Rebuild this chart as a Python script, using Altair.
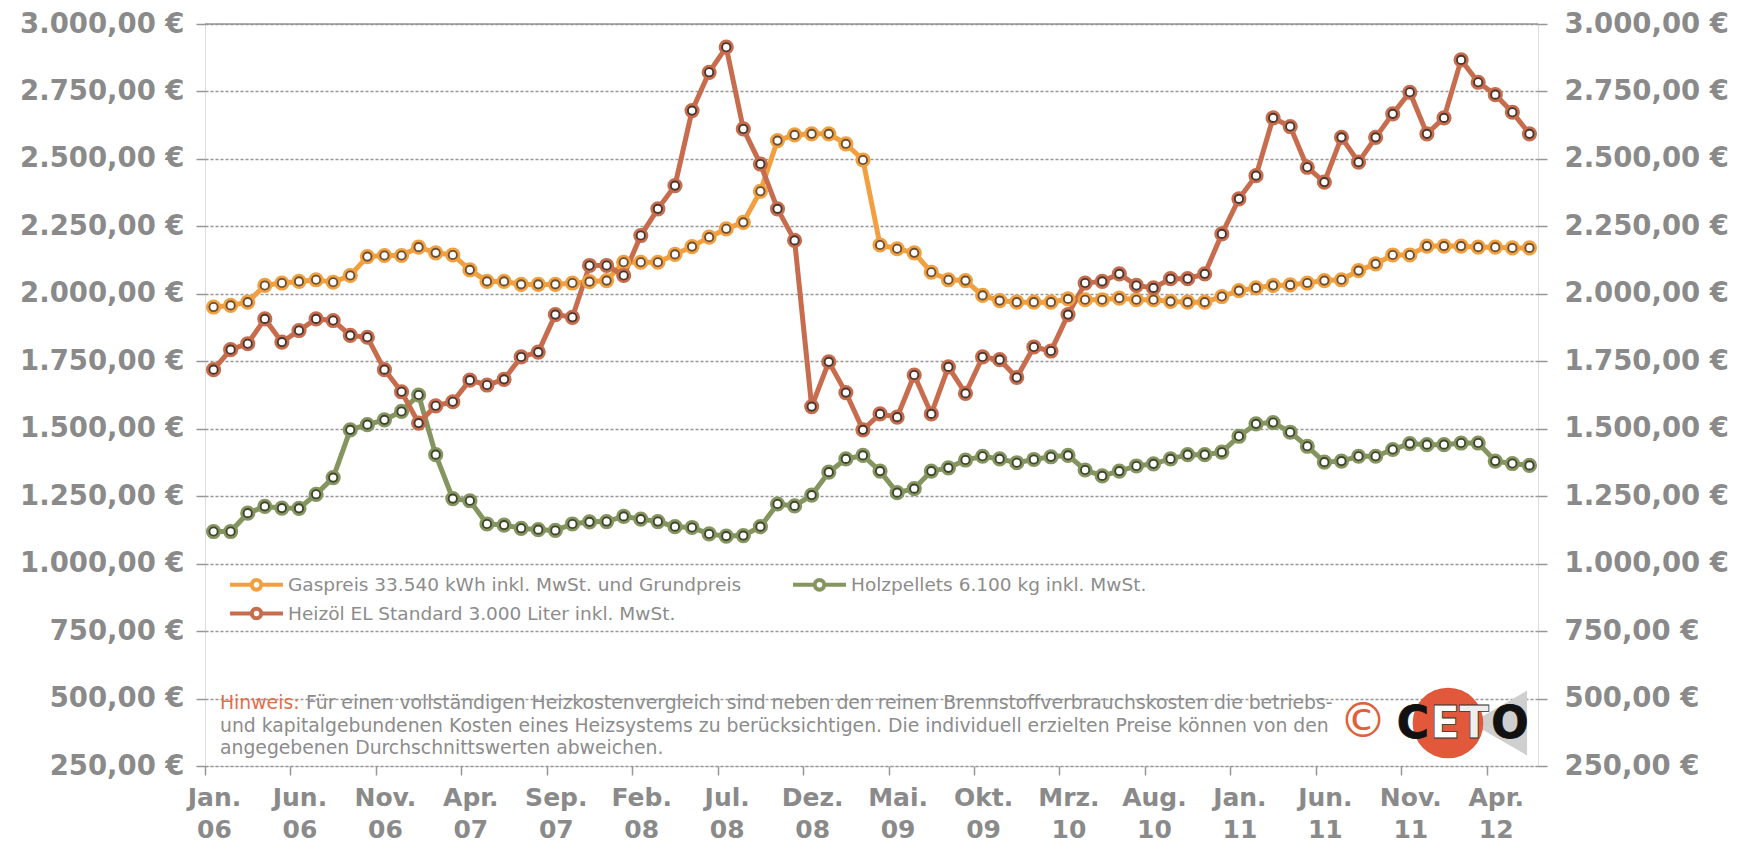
import altair as alt
import pandas as pd

# ---------------- data ----------------
GAS = "Gaspreis 33.540 kWh inkl. MwSt. und Grundpreis"
PEL = "Holzpellets 6.100 kg inkl. MwSt."
OIL = "Heizöl EL Standard 3.000 Liter inkl. MwSt."

# monthly values, Jan 2006 .. Jun 2012 (78 months)
gas = [1951, 1957, 1969, 2031, 2040, 2046, 2052, 2043, 2068, 2138, 2142, 2142, 2173, 2152, 2144, 2089,
       2046, 2046, 2035, 2035, 2035, 2040, 2045, 2049, 2117, 2117, 2117, 2146, 2175, 2210, 2241, 2265,
       2380, 2568, 2589, 2593, 2593, 2556, 2496, 2181, 2167, 2152, 2080, 2052, 2049, 1994, 1975, 1969,
       1969, 1969, 1981, 1978, 1978, 1984, 1978, 1978, 1972, 1969, 1969, 1990, 2012, 2022, 2031, 2033,
       2040, 2049, 2052, 2086, 2111, 2144, 2144, 2177, 2177, 2177, 2173, 2173, 2170, 2170]

oil = [1719, 1793, 1815, 1907, 1821, 1864, 1907, 1901, 1846, 1839, 1719, 1637, 1521, 1585, 1600, 1680,
       1662, 1683, 1766, 1784, 1923, 1913, 2105, 2105, 2068, 2216, 2315, 2401, 2679, 2821, 2914, 2611,
       2481, 2315, 2198, 1582, 1748, 1634, 1496, 1555, 1543, 1699, 1555, 1729, 1631, 1766, 1756, 1690,
       1803, 1788, 1923, 2040, 2046, 2074, 2031, 2022, 2056, 2056, 2074, 2222, 2352, 2438, 2652, 2620,
       2469, 2414, 2580, 2488, 2580, 2667, 2747, 2593, 2652, 2867, 2784, 2738, 2673, 2593]

pellets = [1119, 1119, 1187, 1212, 1206, 1205, 1257, 1319, 1496, 1515, 1533, 1564, 1625, 1404, 1241, 1233,
           1147, 1143, 1131, 1126, 1123, 1147, 1155, 1156, 1175, 1165, 1156, 1137, 1134, 1110, 1102, 1104,
           1137, 1221, 1214, 1254, 1339, 1388, 1401, 1343, 1263, 1278, 1343, 1355, 1384, 1398, 1388, 1374,
           1386, 1396, 1401, 1347, 1325, 1343, 1362, 1370, 1388, 1404, 1404, 1413, 1472, 1518, 1523, 1487,
           1435, 1376, 1380, 1398, 1398, 1423, 1445, 1441, 1441, 1447, 1447, 1380, 1371, 1364]

tick_months = ["Jan.", "Jun.", "Nov.", "Apr.", "Sep.", "Feb.", "Jul.", "Dez.",
               "Mai.", "Okt.", "Mrz.", "Aug.", "Jan.", "Jun.", "Nov.", "Apr."]
tick_years = ["06", "06", "06", "07", "07", "08", "08", "08",
              "09", "09", "10", "10", "11", "11", "11", "12"]
y_ticks = [250, 500, 750, 1000, 1250, 1500, 1750, 2000, 2250, 2500, 2750, 3000]

series_order = [GAS, PEL, OIL]
legend_order = [GAS, OIL, PEL]   # filled column by column -> Gas | Holz / Heizöl
line_colors = ["#f2a03f", "#85955f", "#c76c4c"]
dark_colors = ["#6e5030", "#3f4630", "#4a3830"]

N = len(gas)
rows = []
for name, vals in [(GAS, gas), (PEL, pellets), (OIL, oil)]:
    for i, v in enumerate(vals):
        rows.append({"t": i + 0.5, "v": v, "s": name})
df = pd.DataFrame(rows)

# ---------------- styling ----------------
AXIS_FONT = "DejaVu Sans"
TXT_FONT = "DejaVu Sans"
GRID = "#969696"
LABEL = "#8a8a8a"

x_label_expr = "[" + ",".join(f"['{m}','{y}']" for m, y in zip(tick_months, tick_years)) + "][round(datum.value/5)]"
y_label_expr = ("replace(replace(replace(format(datum.value, ',.2f'), ',', '_'), '.', ','), '_', '.') + ' €'")

xscale = alt.Scale(domain=[0, N], nice=False, zero=False)
yscale = alt.Scale(domain=[250, 3000], nice=False, zero=False)

x_axis = alt.Axis(values=list(range(0, 76, 5)), labelExpr=x_label_expr, title=None, domain=False,
                  ticks=True, tickSize=9, tickColor=GRID, tickWidth=1.5, grid=False,
                  labelOffset=9, labelPadding=10, labelFont=AXIS_FONT, labelFontSize=25,
                  labelFontWeight="bold", labelColor=LABEL, labelLineHeight=32.5, labelFlush=False,
                  labelOverlap=False, labelBound=False)

left_axis = alt.Axis(values=y_ticks, labelExpr=y_label_expr, title=None, domain=False,
                     ticks=True, tickSize=9, tickColor=GRID, tickWidth=1.5,
                     grid=True, gridDash=[3, 2], gridColor=GRID, gridWidth=1.5,
                     labelPadding=12, labelFont=AXIS_FONT, labelFontSize=27.5,
                     labelFontWeight="bold", labelColor=LABEL, orient="left")
right_axis = alt.Axis(values=y_ticks, labelExpr=y_label_expr, title=None, domain=False,
                      ticks=True, tickSize=9, tickColor=GRID, tickWidth=1.5, grid=False,
                      labelPadding=17, labelFont=AXIS_FONT, labelFontSize=27.5,
                      labelFontWeight="bold", labelColor=LABEL, orient="right")

legend_symbol = ("M-2,0H-0.36M0.36,0H2M0.36,0A0.36,0.36,0,1,1,-0.36,0"
                 "A0.36,0.36,0,1,1,0.36,0Z")

base = alt.Chart(df)
X = alt.X("t:Q", scale=xscale, axis=x_axis)

lines = base.mark_line(strokeWidth=5).encode(
    x=X,
    y=alt.Y("v:Q", scale=yscale, axis=left_axis),
    color=alt.Color("s:N", scale=alt.Scale(domain=series_order, range=line_colors),
                    legend=alt.Legend(title=None, orient="none", legendX=36, legendY=545,
                                      values=legend_order,
                                      columns=2, columnPadding=43, rowPadding=0,
                                      symbolType=legend_symbol, symbolSize=700,
                                      symbolStrokeWidth=4, symbolFillColor="white",
                                      labelFont=TXT_FONT, labelFontSize=18.5, labelColor="#8c8c8c",
                                      labelLimit=700, labelOffset=16)),
    detail="s:N",
    order="t:Q",
)

outer = base.mark_point(filled=True, shape="circle", size=230, opacity=1).encode(
    x=X,
    y=alt.Y("v:Q", scale=yscale, axis=None),
    fill=alt.Fill("s:N", scale=alt.Scale(domain=series_order, range=line_colors), legend=None),
)
inner = base.mark_point(filled=True, shape="circle", size=68, fill="white", strokeWidth=1.9, opacity=1).encode(
    x=X,
    y=alt.Y("v:Q", scale=yscale, axis=None),
    stroke=alt.Stroke("s:N", scale=alt.Scale(domain=series_order, range=dark_colors), legend=None),
)

right = base.mark_point(opacity=0).encode(
    x=X,
    y=alt.Y("v:Q", scale=yscale, axis=right_axis),
)

top_rule = alt.Chart(pd.DataFrame({"v": [3000]})).mark_rule(color=GRID, strokeWidth=1.5).encode(
    y=alt.Y("v:Q", scale=yscale, axis=None)
)

# annotation text
NOTE_SIZE = 18.8
note_lines = [
    "Für einen vollständigen Heizkostenvergleich sind neben den reinen Brennstoffverbrauchskosten die betriebs-",
    "und kapitalgebundenen Kosten eines Heizsystems zu berücksichtigen. Die individuell erzielten Preise können von den",
    "angegebenen Durchschnittswerten abweichen.",
]


def txt(s, x, y, **kw):
    return alt.Chart(pd.DataFrame({"txt": [s]})).mark_text(align="left", baseline="middle", **kw).encode(
        text="txt:N", x=alt.value(x), y=alt.value(y))


note_hdr = txt("Hinweis:", 15, 679, font=TXT_FONT, fontSize=NOTE_SIZE, color="#e0704c")
note1 = txt(note_lines[0], 101, 679, font=TXT_FONT, fontSize=NOTE_SIZE, color="#8c8c8c")
note2 = txt(note_lines[1], 15, 702, font=TXT_FONT, fontSize=NOTE_SIZE, color="#8c8c8c")
note3 = txt(note_lines[2], 15, 724, font=TXT_FONT, fontSize=NOTE_SIZE, color="#8c8c8c")

# logo
copy_sym = alt.Chart(pd.DataFrame({"txt": ["©"]})).mark_text(
    font="DejaVu Sans", fontSize=48, color="#e0603a", align="center", baseline="middle"
).encode(text="txt:N", x=alt.value(1158), y=alt.value(699))
tri = alt.Chart(pd.DataFrame({"a": [1]})).mark_point(
    shape="triangle-left", filled=True, size=4200, color="#cfcfcf", opacity=1
).encode(x=alt.value(1294), y=alt.value(699))
red = alt.Chart(pd.DataFrame({"a": [1]})).mark_point(
    shape="circle", filled=True, size=5000, color="#e2583a", opacity=1
).encode(x=alt.value(1243), y=alt.value(699))
logo_letters = []
for ch, xx, col in [("C", 1208, "#111111"), ("E", 1240, "#ffffff"), ("T", 1269, "#eeeeee"), ("O", 1305, "#111111")]:
    logo_letters.append(
        alt.Chart(pd.DataFrame({"txt": [ch]})).mark_text(
            font="DejaVu Sans", fontSize=44, fontWeight="bold", color=col, align="center",
            baseline="middle", stroke="#333333" if col != "#111111" else col, strokeWidth=0.8
        ).encode(text="txt:N", x=alt.value(xx), y=alt.value(701))
    )

chart = alt.layer(
    top_rule, lines, outer, inner, right, note_hdr, note1, note2, note3,
    copy_sym, tri, red, *logo_letters
).resolve_axis(y="independent").resolve_scale(fill="independent", stroke="independent").properties(
    width=1333, height=742, autosize="none",
    padding={"left": 197, "top": 16, "right": 190, "bottom": 77},
).configure_view(stroke=GRID, strokeWidth=1.5).configure(background="white")

chart.save("out.html", embed_options={"renderer": "svg", "actions": False})
